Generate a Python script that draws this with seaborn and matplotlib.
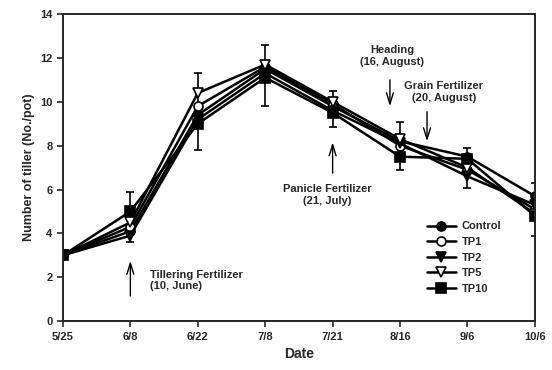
import matplotlib
matplotlib.use("Agg")
import matplotlib.pyplot as plt
import numpy as np
import pandas as pd
import seaborn as sns

dates = ["5/25", "6/8", "6/22", "7/8", "7/21", "8/16", "9/6", "10/6"]

control = [3.0, 4.1, 9.4, 11.5, 9.8, 8.2, 7.5, 5.7]
tp1 = [3.0, 4.3, 9.8, 11.6, 9.9, 8.0, 6.9, 5.1]
tp2 = [3.0, 3.9, 9.2, 11.3, 9.6, 8.1, 6.6, 5.3]
tp5 = [3.0, 4.5, 10.4, 11.7, 10.0, 8.3, 7.0, 4.9]
tp10 = [3.0, 5.0, 9.0, 11.1, 9.5, 7.5, 7.4, 4.8]

# extent of the error bars at each sampling date (lower, upper)
bar_low = [3.0, 3.6, 7.8, 9.8, 8.85, 6.9, 6.05, 3.9]
bar_high = [3.0, 5.9, 11.3, 12.6, 10.5, 9.1, 7.9, 6.3]

series = {
    "Control": (control, "o", "black"),
    "TP1": (tp1, "o", "white"),
    "TP2": (tp2, "v", "black"),
    "TP5": (tp5, "v", "white"),
    "TP10": (tp10, "s", "black"),
}

sns.set_style("ticks")
plt.rcParams["font.family"] = ["Liberation Sans", "DejaVu Sans"]
plt.rcParams["font.weight"] = "bold"

fig = plt.figure(figsize=(5.52, 3.70), dpi=100)
ax = fig.add_axes([0.114, 0.132, 0.855, 0.830])

x = np.arange(len(dates))
lo = np.array(bar_low)
hi = np.array(bar_high)
ax.errorbar(x[1:], ((lo + hi) / 2)[1:], yerr=((hi - lo) / 2)[1:], fmt="none",
            ecolor="black", elinewidth=1.2, capsize=3, capthick=1.2, zorder=1)

for name, (vals, mk, fc) in series.items():
    df = pd.DataFrame({"x": x, "y": vals})
    sns.lineplot(data=df, x="x", y="y", ax=ax, color="black", linewidth=1.8,
                 marker=mk, markersize=6.5, markerfacecolor=fc,
                 markeredgecolor="black", markeredgewidth=1.2, label=name)

ax.set_xlim(0, len(dates) - 1)
ax.set_ylim(0, 14)
ax.set_xticks(x)
ax.set_xticklabels(dates)
ax.set_yticks(range(0, 15, 2))
ax.tick_params(labelsize=8, length=4, width=1.2, direction="out")
for s in ax.spines.values():
    s.set_linewidth(1.4)

ax.set_xlabel("Date", fontsize=10, fontweight="bold")
ax.set_ylabel("Number of tiller (No./pot)", fontsize=9, fontweight="bold")

# narrow open arrowheads like the original
arrow = dict(arrowstyle="->,head_length=0.8,head_width=0.25", color="black",
             lw=1.0, shrinkA=0, shrinkB=0)
ax.annotate("", xy=(1, 2.75), xytext=(1, 1.15), arrowprops=arrow)
ax.text(1.29, 1.85, "Tillering Fertilizer\n(10, June)", fontsize=8,
        ha="left", va="center", linespacing=1.2)

ax.annotate("", xy=(4, 8.15), xytext=(4, 6.75), arrowprops=arrow)
ax.text(3.92, 5.75, "Panicle Fertilizer\n(21, July)", fontsize=8,
        ha="center", va="center", linespacing=1.2)

ax.annotate("", xy=(4.85, 9.8), xytext=(4.85, 11.0), arrowprops=arrow)
ax.text(4.88, 12.1, "Heading\n(16, August)", fontsize=8,
        ha="center", va="center", linespacing=1.2)

ax.annotate("", xy=(5.4, 8.2), xytext=(5.4, 9.55), arrowprops=arrow)
ax.text(5.65, 10.45, "Grain Fertilizer\n(20, August)", fontsize=8,
        ha="center", va="center", linespacing=1.2)

ax.legend(loc="upper left", bbox_to_anchor=(0.755, 0.35), frameon=False,
          fontsize=8, handlelength=2.6, labelspacing=0.5, borderpad=0.2,
          handletextpad=0.5)

fig.savefig("out.png", dpi=100)
